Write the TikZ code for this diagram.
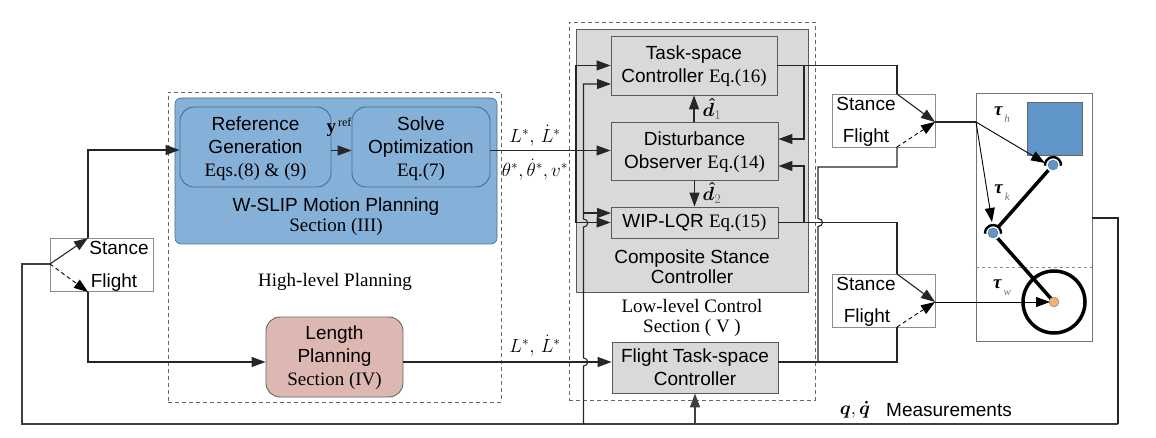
\documentclass[tikz,border=0pt]{standalone}
\usepackage{fix-cm}
\usepackage{amsmath}
\usepackage{fontspec}
\setmainfont{Liberation Sans}
\newfontfamily\tms{Liberation Serif}
\usetikzlibrary{arrows.meta}
\definecolor{plannerblue}{RGB}{133,177,217}
\definecolor{linkblue}{RGB}{70,110,145}
\definecolor{bodyblue}{RGB}{96,149,202}
\definecolor{lengthpink}{RGB}{221,184,178}
\definecolor{ctrlgrey}{RGB}{217,217,217}
\definecolor{jointorange}{RGB}{240,178,122}
\newcommand{\topgap}[1]{\rule{0pt}{#1}}
\tikzset{
	every node/.style={font=\fontsize{19}{23}\selectfont,inner sep=0pt},
	wire/.style={line width=1.1pt,color=black!85},
	busline/.style={line width=1.7pt,color=black!75},
	dashwire/.style={line width=0.9pt,dashed,dash pattern=on 4pt off 3pt},
	framebox/.style={draw=black!60,dashed,line width=0.8pt,dash pattern=on 4pt off 3pt},
	greyblock/.style={draw=black!65,fill=ctrlgrey,line width=0.9pt,align=center},
	planblock/.style={draw=linkblue,fill=plannerblue,line width=0.9pt,rounded corners=14pt,align=center},
	switchbox/.style={draw=black!45,fill=white,line width=0.9pt,minimum width=103pt,minimum height=53pt},
	joint/.style={circle,draw=linkblue,fill=bodyblue,line width=0.4pt,minimum size=10pt},
}
\begin{document}
\begin{tikzpicture}[x=1pt,y=-1pt,>={Triangle[length=14pt,width=10pt]}]
\useasboundingbox (0,0) rectangle (1156,438);

%Dashed frames and the large background blocks
	\node[framebox,minimum width=333pt,minimum height=310pt] (highframe) at (334.5,247) {};
	\node[framebox,minimum width=246pt,minimum height=378pt] (lowframe) at (692,211) {};
	\node[draw=linkblue,fill=plannerblue,line width=0.6pt,rounded corners=6pt,minimum width=322pt,minimum height=146pt] (wslip) at (336,171) {};
	\node[greyblock,minimum width=232pt,minimum height=263pt] (stancebox) at (692,160.5) {};
	\node[draw=black!55,line width=0.9pt,minimum width=116pt,minimum height=248pt] (robotbox) at (1034,217) {};

%Planning blocks
	\node[planblock,minimum width=151pt,minimum height=80pt] (refgen) at (255.5,147) {\topgap{18pt}Reference\\Generation\\{\tms Eqs.(8) \& (9)}};
	\node[planblock,minimum width=138pt,minimum height=80pt] (solveopt) at (421,147) {\topgap{18pt}Solve\\Optimization\\{\tms Eq.(7)}};
	\node[align=center,font=\fontsize{19}{20}\selectfont] (wsliptext) at (336,217) {W-SLIP Motion Planning\\{\tms Section (III)}};
	\node[font=\fontsize{19}{23}\selectfont\tms] (hightext) at (335,282) {High-level Planning};
	\node[planblock,draw=black!60,fill=lengthpink,minimum width=137pt,minimum height=80pt] (lengthplan) at (334.5,357) {\topgap{16pt}Length\\Planning\\{\tms Section (IV)}};

%Controller blocks
	\node[greyblock,minimum width=166pt,minimum height=59pt] (taskspace) at (694,65.5) {\topgap{16pt}Task-space\\Controller {\tms Eq.(16)}};
	\node[greyblock,minimum width=167pt,minimum height=58pt] (observer) at (694.5,151) {\topgap{16pt}Disturbance\\Observer {\tms Eq.(14)}};
	\node[greyblock,minimum width=167pt,minimum height=31pt] (wiplqr) at (694.5,222.5) {WIP-LQR {\tms Eq.(15)}};
	\node[align=center,font=\fontsize{19}{20}\selectfont] (stancetext) at (692,266.5) {Composite Stance\\Controller};
	\node[align=center,font=\fontsize{19}{20}\selectfont\tms] (lowtext) at (692,318) {Low-level Control\\Section ( V )};
	\node[greyblock,minimum width=166pt,minimum height=51pt] (flightctrl) at (695,367.5) {Flight Task-space\\Controller};

%Switch boxes, the two words of each one are separate nodes
	\foreach \name/\xpos/\ypos in {modesw/101.5/265,upsw/883.5/120.5,lowsw/883.5/300.5}
		{
		\node[switchbox] (\name) at (\xpos,\ypos) {};
		}
	\node (modestance) at (119,248) {Stance};
	\node (modeflight) at (114,283) {Flight};
	\node (upstance) at (866,104) {Stance};
	\node (upflight) at (866,138) {Flight};
	\node (lowstance) at (866,284) {Stance};
	\node (lowflight) at (867,318) {Flight};

%Junction points of the wiring
	\coordinate (modein) at (50,264);
	\coordinate (modeup) at (88,238);
	\coordinate (modedown) at (88,292);
	\coordinate (upin) at (897,94);
	\coordinate (updown) at (897,147);
	\coordinate (upout) at (935,122);
	\coordinate (lowin) at (897,274);
	\coordinate (lowdown) at (897,327);
	\coordinate (lowout) at (935,302);
	\coordinate (inbus) at (576,150.5);
	\coordinate (fbbus) at (583.5,424);
	\coordinate (outbus) at (804,65.5);

%Mode switch on the left and the lines into the planners
	\draw[wire,->] (modein) -- (modeup);
	\draw[dashwire,->] (modein) -- (modedown);
	\draw[wire,->] (modeup) -- (88,150) -- (refgen.west |- 0,150);
	\draw[wire,->] (modedown) -- (88,362) -- (lengthplan.west |- 0,362);
	\draw[wire,->] (refgen.east |- 0,150.5) -- (solveopt.west |- 0,150.5);

%Reference lines into the low level controllers
	\draw[wire,->] (solveopt.east |- 0,150.5) -- (inbus) -- (observer.west |- 0,150.5);
	\draw[wire,->] (inbus) -- (576,65.5) -- (taskspace.west);
	\draw[wire,->] (inbus) -- (576,222.5) -- (wiplqr.west);
	\draw[wire,->] (lengthplan.east |- 0,362) -- (flightctrl.west |- 0,362);

%Measurement feedback and its branches
	\draw[busline] (modein) -- (22,264) -- (22,424) -- (1118,424);
	\draw[wire] (1118,424) -- (1118,218) -- (robotbox.east |- 0,218);
	\draw[wire,->] (fbbus) -- (583.5,366) .. controls (589,366) and (589,358) .. (583.5,358) -- (583.5,227) .. controls (589,227) and (589,219) .. (583.5,219) -- (583.5,84) -- (611,84);
	\draw[wire,->] (583.5,213) -- (611,213);
	\draw[busline,->] (flightctrl.south |- 0,424) -- (flightctrl.south);

%Observer loop and the outputs on the right
	\draw[wire,->] (taskspace.east) -- (outbus) -- (804,139) -- (observer.east |- 0,139);
	\draw[wire] (outbus) -- (897,65.5) -- (upin);
	\draw[wire,->] (804,222.5) -- (804,166) -- (observer.east |- 0,166);
	\draw[wire] (wiplqr.east) -- (897,222.5) -- (lowin);
	\draw[wire,->] (observer.north -| taskspace.south) -- (taskspace.south);
	\draw[wire,->] (observer.south -| wiplqr.north) -- (wiplqr.north);
	\draw[wire] (updown) -- (897,167) -- (818,167) -- (818,218.5) .. controls (824,218.5) and (824,226.5) .. (818,226.5) -- (818,362);
	\draw[wire] (flightctrl.east |- 0,362) -- (897,362) -- (lowdown);

%Switch arrows on the right
	\draw[wire,->] (upin) -- (upout);
	\draw[dashwire,->] (updown) -- (upout);
	\draw[wire,->] (lowin) -- (lowout);
	\draw[dashwire,->] (lowdown) -- (lowout);

%Signal labels
	\node (yref) at (339,127) {{\tms\bfseries y}\raisebox{6pt}{\fontsize{12}{12}\selectfont\tms\,ref}};
	\node (lenlabel) at (535,136) {$L^{*},\,\dot{L}^{*}$};
	\node (anglabel) at (535,170) {$\theta^{*},\dot{\theta}^{*},v^{*}$};
	\node (lenlabeltwo) at (535,346) {$L^{*},\,\dot{L}^{*}$};
	\node (dhatone) at (712,109) {$\boldsymbol{\hat{d}}_{\textcolor{black!60}{1}}$};
	\node (dhattwo) at (712,193) {$\boldsymbol{\hat{d}}_{\textcolor{black!60}{2}}$};
	\node (qlabel) at (855,410) {$\boldsymbol{q},\boldsymbol{\dot{q}}$};
	\node (measlabel) at (949,410) {Measurements};

%Robot sketch
	\node[draw=black!60,fill=bodyblue,line width=0.6pt,minimum width=55pt,minimum height=53pt] (body) at (1054.5,128.5) {};
	\node[circle,draw=black,line width=3.5pt,minimum size=62pt] (wheel) at (1054,302) {};
	\coordinate (hipc) at (1053,165);
	\coordinate (kneec) at (993,233);
	\draw[line width=0.8pt,dashed,color=black!45] (robotbox.west |- 0,267) -- (robotbox.east |- 0,267);
	\draw[line width=3.5pt] (hipc) -- (kneec) -- (wheel.center);
	\foreach \jname/\jpos in {hip/hipc,knee/kneec}
		{
		\fill[white] (\jpos) circle (7pt);
		\draw[line width=2.4pt] (\jpos) ++(-5:8pt) arc (-5:185:8pt);
		\node[joint] (\jname) at (\jpos) {};
		}
	\node[circle,draw=black!50,fill=jointorange,line width=0.4pt,minimum size=10pt] (ankle) at (wheel.center) {};

%Torque arrows
	\coordinate (torquein) at (976,122);
	\draw[wire] (upout) -- (torquein);
	\draw[line width=0.9pt,->] (torquein) -- (1045,163);
	\draw[line width=0.9pt,->] (torquein) -- (992,222);
	\draw[line width=0.9pt,->] (lowout) -- (1050,302);
	\foreach \sub/\ypos in {h/115,k/193,w/288}
		{
		\node (tau\sub) at (1002,\ypos) {{\tms\bfseries\itshape τ}\hspace{2pt}\raisebox{-7pt}{\fontsize{11}{11}\selectfont\tms\itshape\color{black!55}\sub}};
		}

\end{tikzpicture}
\end{document}
